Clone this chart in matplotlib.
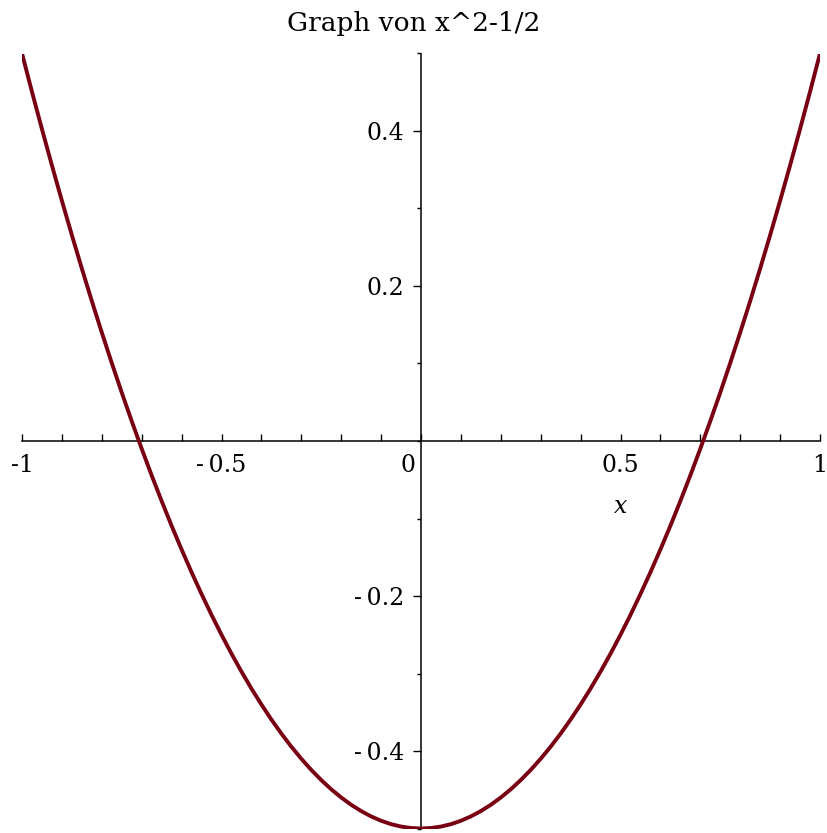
import matplotlib
matplotlib.use("Agg")
import matplotlib.pyplot as plt
import matplotlib.transforms as mtransforms
from matplotlib.ticker import MultipleLocator

# Curve values (x, y)
x_vals = [-1.0, -0.975, -0.95, -0.925, -0.9, -0.875, -0.85, -0.825, -0.8, -0.775,
          -0.75, -0.725, -0.7, -0.675, -0.65, -0.625, -0.6, -0.575, -0.55, -0.525,
          -0.5, -0.475, -0.45, -0.425, -0.4, -0.375, -0.35, -0.325, -0.3, -0.275,
          -0.25, -0.225, -0.2, -0.175, -0.15, -0.125, -0.1, -0.075, -0.05, -0.025,
          0.0,
          0.025, 0.05, 0.075, 0.1, 0.125, 0.15, 0.175, 0.2, 0.225, 0.25,
          0.275, 0.3, 0.325, 0.35, 0.375, 0.4, 0.425, 0.45, 0.475, 0.5,
          0.525, 0.55, 0.575, 0.6, 0.625, 0.65, 0.675, 0.7, 0.725, 0.75,
          0.775, 0.8, 0.825, 0.85, 0.875, 0.9, 0.925, 0.95, 0.975, 1.0]
y_vals = [0.5, 0.4506, 0.4025, 0.3556, 0.31, 0.2656, 0.2225, 0.1806, 0.14, 0.1006,
          0.0625, 0.0256, -0.01, -0.0444, -0.0775, -0.1094, -0.14, -0.1694, -0.1975, -0.2244,
          -0.25, -0.2744, -0.2975, -0.3194, -0.34, -0.3594, -0.3775, -0.3944, -0.41, -0.4244,
          -0.4375, -0.4494, -0.46, -0.4694, -0.4775, -0.4844, -0.49, -0.4944, -0.4975, -0.4994,
          -0.5,
          -0.4994, -0.4975, -0.4944, -0.49, -0.4844, -0.4775, -0.4694, -0.46, -0.4494, -0.4375,
          -0.4244, -0.41, -0.3944, -0.3775, -0.3594, -0.34, -0.3194, -0.2975, -0.2744, -0.25,
          -0.2244, -0.1975, -0.1694, -0.14, -0.1094, -0.0775, -0.0444, -0.01, 0.0256, 0.0625,
          0.1006, 0.14, 0.1806, 0.2225, 0.2656, 0.31, 0.3556, 0.4025, 0.4506, 0.5]

x_ticks = [-1, -0.5, 0, 0.5, 1]
x_ticklabels = ["-1", "-\u20090.5", "0", "0.5", "1"]
y_ticks = [-0.4, -0.2, 0.2, 0.4]
y_ticklabels = ["-\u20090.4", "-\u20090.2", "0.2", "0.4"]
title = "Graph von x^2-1/2"
x_label = "x"

plt.rcParams['font.family'] = ['DejaVu Serif']

fig = plt.figure(figsize=(8.27, 8.33), dpi=100)
ax = fig.add_axes([22/827, 4.5/833, 798/827, 775/833])
ax.plot(x_vals, y_vals, color="#780012", lw=2.8, solid_capstyle='butt',
        solid_joinstyle='round', zorder=3)
ax.set_xlim(-1, 1)
ax.set_ylim(-0.5, 0.5)

for s in ["top", "right"]:
    ax.spines[s].set_visible(False)
ax.spines["left"].set_position(("data", 0))
ax.spines["bottom"].set_position(("data", 0))
for s in ["left", "bottom"]:
    ax.spines[s].set_linewidth(1.1)
    ax.spines[s].set_zorder(2)

ax.set_xticks(x_ticks)
ax.set_xticklabels(x_ticklabels)
ax.xaxis.set_minor_locator(MultipleLocator(0.1))
ax.set_yticks(y_ticks)
ax.set_yticklabels(y_ticklabels)
ax.yaxis.set_minor_locator(MultipleLocator(0.1))

ax.tick_params(axis='x', which='both', direction='in', length=5, width=1, labelsize=17, pad=9)
ax.tick_params(axis='y', which='major', direction='out', length=6, width=1, labelsize=17, pad=6)
ax.tick_params(axis='y', which='minor', direction='out', length=3, width=1)

# shift the "0" label left of the vertical axis
for lbl in ax.get_xticklabels():
    if lbl.get_text() == "0":
        lbl.set_transform(lbl.get_transform() + mtransforms.ScaledTranslation(-13/100, 0, fig.dpi_scale_trans))

ax.text(0.5, -0.085, x_label, fontsize=17, style='italic', ha='center', va='center')
fig.text(0.5, 1 - 24/833, title, fontsize=19, ha='center', va='center')

fig.savefig("out.png", dpi=100)
